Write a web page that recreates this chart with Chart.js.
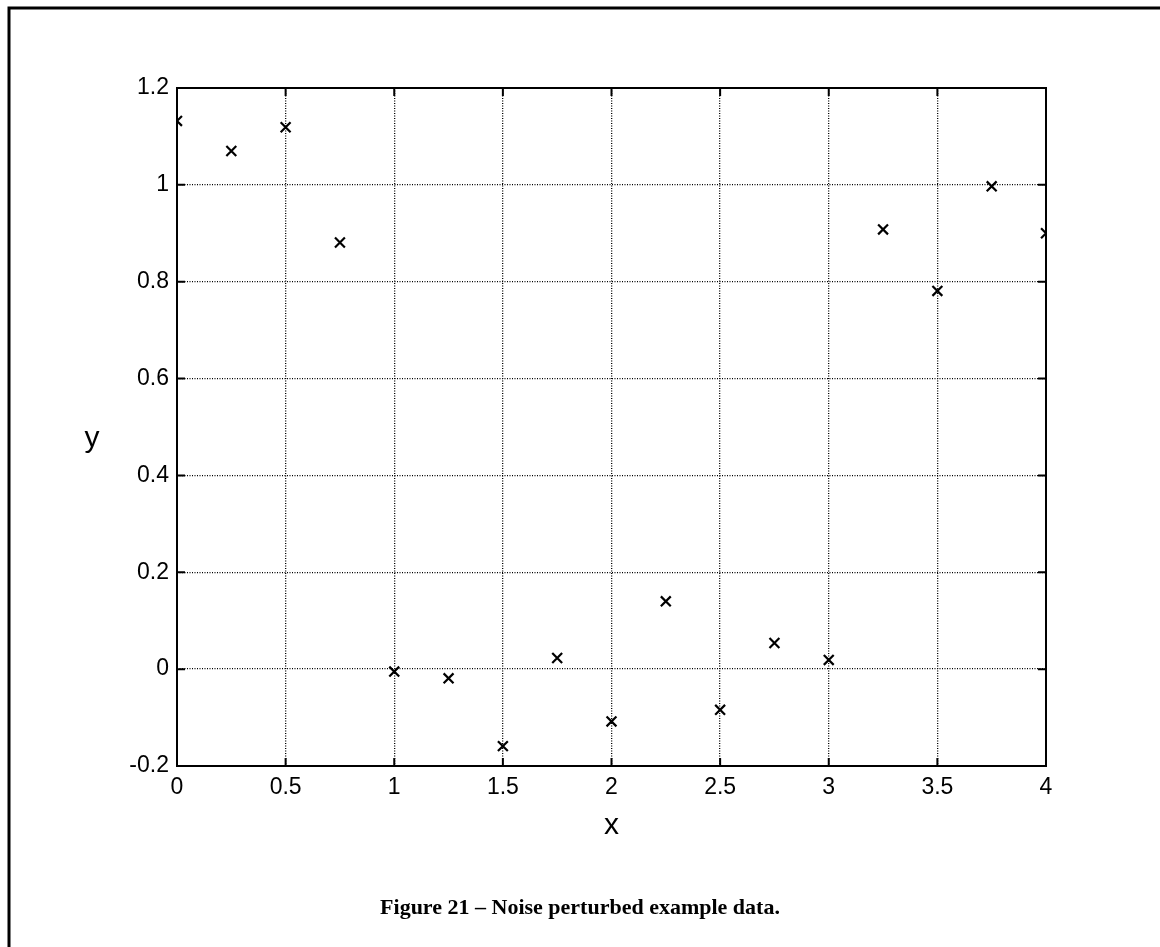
<!DOCTYPE html>
<html>
<head>
<meta charset="utf-8">
<script src="https://cdn.jsdelivr.net/npm/chart.js@4.4.0/dist/chart.umd.min.js"></script>
<style>
  html, body { margin: 0; padding: 0; background: #fff; }
  #wrap { position: relative; width: 1160px; height: 947px; }
</style>
</head>
<body>
<div id="wrap"><canvas id="scatterChart" width="1160" height="947"></canvas></div>
<script>
// data
const xValues = [0, 0.25, 0.5, 0.75, 1, 1.25, 1.5, 1.75, 2, 2.25, 2.5, 2.75, 3, 3.25, 3.5, 3.75, 4];
const yValues = [1.132, 1.070, 1.119, 0.881, -0.005, -0.019, -0.159, 0.023, -0.108, 0.140, -0.084, 0.054, 0.019, 0.908, 0.781, 0.997, 0.900];
const xTicks = [0, 0.5, 1, 1.5, 2, 2.5, 3, 3.5, 4];
const xTickLabels = ['0', '0.5', '1', '1.5', '2', '2.5', '3', '3.5', '4'];
const yTicks = [-0.2, 0, 0.2, 0.4, 0.6, 0.8, 1, 1.2];
const yTickLabels = ['-0.2', '0', '0.2', '0.4', '0.6', '0.8', '1', '1.2'];
const xTitle = 'x';
const yTitle = 'y';
const caption = 'Figure 21 \u2013 Noise perturbed example data.';

const points = xValues.map((x, i) => ({ x: x, y: yValues[i] }));

// box, inside ticks, axis titles, caption and page frame
const decorPlugin = {
    id: 'decor',
    afterDraw(chart) {
        const ctx = chart.ctx;
        const a = chart.chartArea;
        const xs = chart.scales.x, ys = chart.scales.y;
        ctx.save();
        ctx.strokeStyle = '#000';
        ctx.lineWidth = 2;
        ctx.strokeRect(a.left, a.top, a.right - a.left, a.bottom - a.top);
        ctx.beginPath();
        xTicks.forEach(v => {
            const px = xs.getPixelForValue(v);
            ctx.moveTo(px, a.bottom); ctx.lineTo(px, a.bottom - 8);
            ctx.moveTo(px, a.top); ctx.lineTo(px, a.top + 8);
        });
        yTicks.forEach(v => {
            const py = ys.getPixelForValue(v);
            ctx.moveTo(a.left, py); ctx.lineTo(a.left + 8, py);
            ctx.moveTo(a.right, py); ctx.lineTo(a.right - 8, py);
        });
        ctx.stroke();

        // page frame (top and left only are visible)
        ctx.lineWidth = 3;
        ctx.beginPath();
        ctx.moveTo(9, chart.height); ctx.lineTo(9, 8); ctx.lineTo(chart.width, 8);
        ctx.stroke();

        ctx.fillStyle = '#000';
        ctx.textAlign = 'center';
        ctx.textBaseline = 'middle';
        ctx.font = '30px "Liberation Sans", Arial, sans-serif';
        ctx.fillText(xTitle, (a.left + a.right) / 2, 826);
        ctx.fillText(yTitle, 92, 439);
        ctx.font = 'bold 22px "Liberation Serif", "Times New Roman", serif';
        ctx.fillText(caption, 580, 908);
        ctx.restore();
    }
};

new Chart(document.getElementById('scatterChart').getContext('2d'), {
    type: 'scatter',
    data: {
        datasets: [{
            data: points,
            pointStyle: 'crossRot',
            pointRadius: 7,
            pointHoverRadius: 7,
            borderColor: '#000',
            backgroundColor: '#000',
            pointBorderWidth: 2.2
        }]
    },
    options: {
        responsive: false,
        animation: false,
        events: [],
        layout: { padding: { left: 0, top: 88, right: 114, bottom: 0 } },
        plugins: { legend: { display: false }, tooltip: { enabled: false } },
        scales: {
            x: {
                type: 'linear', min: 0, max: 4,
                afterBuildTicks: s => { s.ticks = xTicks.map(v => ({ value: v })); },
                afterFit: s => { s.height = 181; },
                grid: { color: '#000', lineWidth: 1.3, drawTicks: false },
                border: { display: false, dash: [1, 1.5] },
                ticks: {
                    color: '#000', padding: 8,
                    font: { family: '"Liberation Sans", Arial, sans-serif', size: 23 },
                    callback: (v, i) => xTickLabels[i]
                }
            },
            y: {
                type: 'linear', min: -0.2, max: 1.2,
                afterBuildTicks: s => { s.ticks = yTicks.map(v => ({ value: v })); },
                afterFit: s => { s.width = 177; },
                grid: { color: '#000', lineWidth: 1.3, drawTicks: false },
                border: { display: false, dash: [1, 1.5] },
                ticks: {
                    color: '#000', padding: 8,
                    font: { family: '"Liberation Sans", Arial, sans-serif', size: 23 },
                    callback: (v, i) => yTickLabels[i]
                }
            }
        }
    },
    plugins: [decorPlugin]
});
</script>
</body>
</html>
